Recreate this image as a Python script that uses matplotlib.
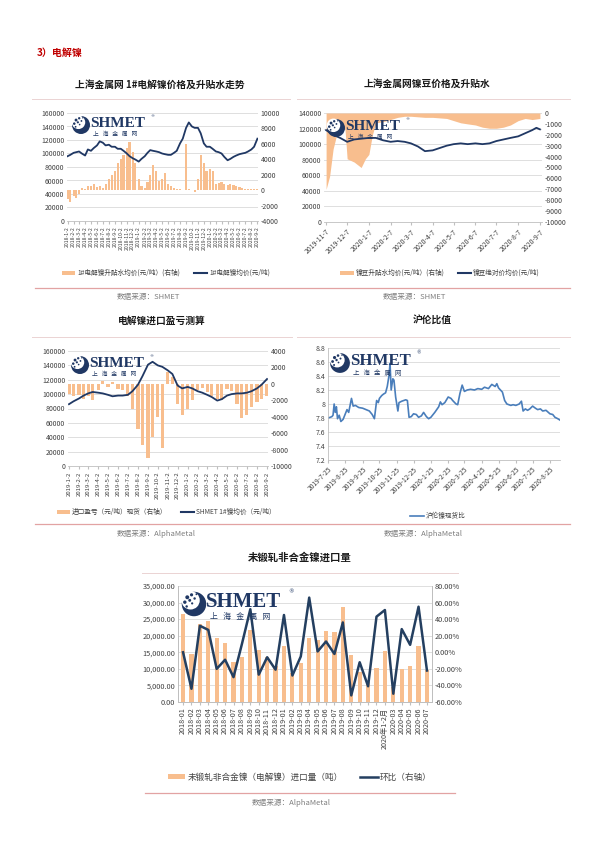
import matplotlib
matplotlib.use('Agg')
import matplotlib.pyplot as plt
import matplotlib.patches as mpatches
from matplotlib.lines import Line2D
import numpy as np
import pandas as pd

plt.rcParams['font.family'] = ['Noto Sans CJK SC', 'DejaVu Sans']
plt.rcParams['axes.unicode_minus'] = False

W, H = 600, 848
BAR = '#F8BE8E'
NAVY = '#203864'
BLUE = '#4A7EBB'
GRID = '#D9D9D9'
TXT = '#404040'
PINK = '#E2A3A3'
LIGHT = '#EBD3D3'

# ---------------- data ----------------
# Chart 1: 1# nickel price and premium (semi-monthly readings)
c1_price = [96000, 98000, 101000, 102000, 103000, 100000, 97000, 106000, 104000, 108000, 112000, 118000,
            116000, 112000, 113000, 110000, 110000, 107000, 107000, 104000, 100000, 96000, 93000, 91000,
            88000, 92000, 96000, 101000, 105000, 104000, 103000, 102000, 100000, 99000, 98000, 98000,
            101000, 104000, 115000, 122000, 138000, 146000, 140000, 138000, 138000, 130000, 115000, 110000,
            110000, 107000, 103000, 102000, 100000, 95000, 90000, 92000, 95000, 97000, 99000, 100000,
            101000, 103000, 106000, 110000, 122000]
c1_premium = [-1200, -1500, -800, -1000, -500, 300, 200, 500, 600, 800, 400, 600,
              300, 800, 1500, 2000, 2500, 3500, 4000, 4500, 5500, 6300, 5000, 3500,
              1500, 500, 300, 1000, 2000, 3200, 2500, 1200, 1500, 2200, 800, 600,
              300, 200, 100, 0, 6000, 200, 0, -300, 1500, 4500, 3500, 2500,
              2800, 2500, 800, 900, 1000, 800, 700, 800, 700, 600, 400, 300,
              200, 150, 100, 100, 100]

# Chart 2: nickel bean price and premium
c2_prem_dates = ['2019-11-07', '2019-11-12', '2019-11-17', '2019-11-22', '2019-11-27', '2019-12-04',
                 '2019-12-07', '2019-12-17', '2019-12-27', '2020-01-02', '2020-01-07', '2020-01-12',
                 '2020-01-17', '2020-01-27', '2020-02-07', '2020-02-17', '2020-02-27', '2020-03-07',
                 '2020-03-17', '2020-03-27', '2020-04-07', '2020-04-17', '2020-04-27', '2020-05-07',
                 '2020-05-17', '2020-05-27', '2020-06-07', '2020-06-17', '2020-06-27', '2020-07-07',
                 '2020-07-17', '2020-07-27', '2020-08-07', '2020-08-17', '2020-08-27', '2020-09-07']
c2_premium = [-7000, -5800, -3300, -2000, -1200, -1500, -4200, -4500, -5000, -4200, -3800, -2000,
              -900, -800, -600, -400, -300, -300, -350, -400, -400, -450, -500, -700,
              -900, -1000, -1100, -1300, -1400, -1400, -1300, -1100, -700, -500, -600, -500]
c2_price_dates = ['2019-11-07', '2019-11-17', '2019-11-27', '2019-12-07', '2019-12-17', '2019-12-27',
                  '2020-01-07', '2020-01-17', '2020-01-27', '2020-02-07', '2020-02-17', '2020-02-27',
                  '2020-03-07', '2020-03-17', '2020-03-27', '2020-04-07', '2020-04-17', '2020-04-27',
                  '2020-05-07', '2020-05-17', '2020-05-27', '2020-06-07', '2020-06-17', '2020-06-27',
                  '2020-07-07', '2020-07-17', '2020-07-27', '2020-08-07', '2020-08-17', '2020-08-27',
                  '2020-09-02', '2020-09-07']
c2_price = [118000, 112000, 108000, 103000, 106000, 107000, 108000, 108000, 105000, 103000, 104000, 103000,
            101000, 97000, 91000, 92000, 95000, 98000, 100000, 101000, 100000, 101000, 100000, 101000,
            104000, 106000, 108000, 110000, 114000, 118000, 121000, 119000]

# Chart 3: import profit/loss and SHMET 1# nickel price (semi-monthly)
c3_price = [86000, 90000, 94000, 98000, 101000, 103000, 102000, 101000, 99000, 97000, 98000, 98000,
            99000, 104000, 113000, 125000, 141000, 145000, 140000, 138000, 133000, 128000, 112000, 108000,
            110000, 108000, 104000, 102000, 99000, 96000, 91000, 93000, 98000, 100000, 101000, 101000,
            102000, 104000, 108000, 113000, 121000]
c3_profit = [-1200, -1500, -1300, -1800, -1500, -2000, -800, 300, -400, 200, -600, -800,
             -1500, -3000, -5500, -7500, -9000, -6500, -4000, -7800, 1500, 800, -2500, -3800,
             -3000, -2000, -800, -500, -1000, -1500, -1800, -2000, -600, -900, -2500, -4200,
             -3800, -2800, -2200, -1800, -1500]

# Chart 4: SHFE/LME ratio
c4_dates = ['2019-07-25', '2019-07-29', '2019-08-01', '2019-08-03', '2019-08-05', '2019-08-07', '2019-08-09',
            '2019-08-11', '2019-08-14', '2019-08-17', '2019-08-21', '2019-08-25', '2019-08-28', '2019-08-31',
            '2019-09-05', '2019-09-08', '2019-09-12', '2019-09-18', '2019-09-25', '2019-10-01', '2019-10-07',
            '2019-10-12', '2019-10-16', '2019-10-20', '2019-10-23', '2019-10-25', '2019-10-29', '2019-11-01',
            '2019-11-05', '2019-11-08', '2019-11-11', '2019-11-13', '2019-11-15', '2019-11-18', '2019-11-20',
            '2019-11-23', '2019-11-25', '2019-11-27', '2019-11-29', '2019-12-04', '2019-12-11', '2019-12-14',
            '2019-12-17', '2019-12-21', '2019-12-25', '2019-12-30', '2020-01-03', '2020-01-08', '2020-01-12',
            '2020-01-17', '2020-01-21', '2020-01-25', '2020-02-01', '2020-02-08', '2020-02-11', '2020-02-14',
            '2020-02-19', '2020-02-25', '2020-03-01', '2020-03-04', '2020-03-10', '2020-03-13', '2020-03-17',
            '2020-03-21', '2020-03-25', '2020-03-30', '2020-04-05', '2020-04-12', '2020-04-18', '2020-04-25',
            '2020-04-30', '2020-05-07', '2020-05-13', '2020-05-19', '2020-05-22', '2020-05-25', '2020-06-01',
            '2020-06-05', '2020-06-09', '2020-06-16', '2020-06-20', '2020-06-25', '2020-07-01', '2020-07-05',
            '2020-07-08', '2020-07-12', '2020-07-16', '2020-07-20', '2020-07-25', '2020-07-30', '2020-08-03',
            '2020-08-08', '2020-08-12', '2020-08-18', '2020-08-25', '2020-08-30', '2020-09-03', '2020-09-08',
            '2020-09-12']
c4_ratio = [7.80, 7.81, 7.82, 7.84, 8.00, 7.88, 7.96,
            7.79, 7.84, 7.75, 7.78, 7.86, 7.92, 7.88,
            8.08, 7.97, 7.98, 7.95, 7.94, 7.92, 7.90,
            7.85, 7.79, 8.05, 8.02, 8.08, 8.12, 8.14,
            8.16, 8.25, 8.40, 8.58, 8.20, 8.36, 8.34,
            8.10, 8.00, 7.90, 8.02, 8.04, 8.06, 8.05,
            7.81, 7.82, 7.86, 7.85, 7.81, 7.83, 7.88,
            7.82, 7.79, 7.81, 7.88, 7.96, 8.03, 7.99,
            8.02, 8.10, 8.08, 8.05, 8.00, 7.99, 8.15,
            8.27, 8.18, 8.20, 8.21, 8.20, 8.22, 8.21,
            8.24, 8.22, 8.28, 8.25, 8.29, 8.23, 8.17,
            8.05, 8.00, 7.98, 7.99, 7.98, 8.00, 8.04,
            7.90, 7.93, 7.91, 7.93, 7.97, 7.94, 7.92,
            7.93, 7.90, 7.91, 7.86, 7.85, 7.81, 7.79,
            7.77]
c4_ticks = ['2019-07-25', '2019-08-25', '2019-09-25', '2019-10-25', '2019-11-25', '2019-12-25',
            '2020-01-25', '2020-02-25', '2020-03-25', '2020-04-25', '2020-05-25', '2020-06-25',
            '2020-07-25', '2020-08-25']

# Chart 5: unwrought non-alloy nickel imports
c5_labels = ['2018-01', '2018-02', '2018-03', '2018-04', '2018-05', '2018-06', '2018-07', '2018-08',
             '2018-09', '2018-10', '2018-11', '2018-12', '2019-01', '2019-02', '2019-03', '2019-04',
             '2019-05', '2019-06', '2019-07', '2019-08', '2019-09', '2019-10', '2019-11', '2019-12',
             '2020年1-2月', '2020-03', '2020-04', '2020-05', '2020-06', '2020-07']
c5_imports = [26500, 14500, 23500, 24300, 19300, 17700, 12000, 13700, 21600, 15800, 13500, 11000,
              16800, 8600, 11700, 19200, 18800, 21300, 21200, 28600, 14200, 9000, 6000, 10200,
              15300, 4500, 10000, 11000, 17000, 9700]
c5_mom = [0, -44, 32, 27, -20, -9, -30, 10, 52, -27, -6, -21,
          45, -28, -5, 66, 1, 13, -2, 36, -52, -12, -41, 43,
          51, -50, 28, 9, 55, -22]

# ---------------- helpers ----------------
fig = plt.figure(figsize=(W / 100, H / 100), dpi=100)
fig.patch.set_facecolor('white')


def rect(x0, y0, x1, y1):
    return [x0 / W, 1 - y1 / H, (x1 - x0) / W, (y1 - y0) / H]


def style_axes(ax, fs=5):
    for s in ax.spines.values():
        s.set_visible(False)
    ax.tick_params(axis='both', length=0, labelsize=fs, colors=TXT, pad=2)


def dual_chart(box, dates, bar_vals, bar_w, line_vals, lyl, lyticks, ryl, ryticks, ticks, ticklabels, rot,
               area=False, bar_dates=None, line_dates=None, xfs=4.4):
    axb = fig.add_axes(rect(*box))
    axl = fig.add_axes(rect(*box))
    bd = bar_dates if bar_dates is not None else dates
    ld = line_dates if line_dates is not None else dates
    if area:
        axb.fill_between(bd, 0, bar_vals, color=BAR, lw=0, zorder=2)
    else:
        axb.bar(bd, bar_vals, width=bar_w, color=BAR, lw=0, zorder=2)
    axb.set_ylim(*ryl)
    axb.set_yticks(ryticks)
    axb.yaxis.tick_right()
    n = len(lyticks) - 1
    for k in range(n + 1):
        axb.axhline(ryl[0] + (ryl[1] - ryl[0]) * k / n, color=GRID, lw=0.6, zorder=0)
    axl.plot(ld, line_vals, color=NAVY, lw=1.3, zorder=3)
    axl.set_ylim(*lyl)
    axl.set_yticks(lyticks)
    axl.patch.set_visible(False)
    for a in (axb, axl):
        style_axes(a)
        a.set_xlim(ticks[0] - pd.Timedelta(days=3), ticks[-1] + pd.Timedelta(days=3))
    axb.set_xticks(ticks)
    axb.set_xticklabels([])
    axl.set_xticks(ticks)
    if rot == 90:
        axl.set_xticklabels(ticklabels, rotation=90, fontsize=xfs, ha='center', va='top')
    else:
        axl.set_xticklabels(ticklabels, rotation=45, fontsize=xfs, ha='right', va='top', rotation_mode='anchor')
    axl.spines['bottom'].set_visible(True)
    axl.spines['bottom'].set_color('#BFBFBF')
    axl.spines['bottom'].set_linewidth(0.6)
    axl.tick_params(axis='x', length=2, color='#BFBFBF')
    return axb, axl


# ---------------- chart 1 ----------------
c1_dates = pd.date_range('2018-01-01', '2020-09-01', freq='SMS') + pd.Timedelta(days=1)
c1_ticks = pd.date_range('2018-01-01', '2020-09-01', freq='MS') + pd.Timedelta(days=1)
c1_ticklabels = [f"{d.year}-{d.month}-2" for d in c1_ticks]
dual_chart((67, 113, 258, 221), c1_dates, c1_premium, 11, c1_price,
           (0, 160000), list(range(0, 160001, 20000)), (-4000, 10000), list(range(-4000, 10001, 2000)),
           c1_ticks, c1_ticklabels, 90, xfs=3.7)

# ---------------- chart 2 ----------------
c2_ticks = pd.date_range('2019-11-01', '2020-09-01', freq='MS') + pd.Timedelta(days=6)
c2_ticklabels = [f"{d.year}-{d.month}-7" for d in c2_ticks]
dual_chart((324, 113, 542, 222), None, c2_premium, None, c2_price,
           (0, 140000), list(range(0, 140001, 20000)), (-10000, 0), list(range(-10000, 1, 1000)),
           c2_ticks, c2_ticklabels, 45, area=True,
           bar_dates=pd.to_datetime(c2_prem_dates), line_dates=pd.to_datetime(c2_price_dates), xfs=5)

# ---------------- chart 3 ----------------
c3_dates = pd.date_range('2019-01-01', '2020-09-01', freq='SMS') + pd.Timedelta(days=1)
c3_ticks = pd.date_range('2019-01-01', '2020-09-01', freq='MS') + pd.Timedelta(days=1)
c3_ticklabels = [f"{d.year}-{d.month}-2" for d in c3_ticks]
dual_chart((68, 351, 268, 466), c3_dates, c3_profit, 10, c3_price,
           (0, 160000), list(range(0, 160001, 20000)), (-10000, 4000), list(range(-10000, 4001, 2000)),
           c3_ticks, c3_ticklabels, 90, xfs=4.3)

# ---------------- chart 4 ----------------
ax4 = fig.add_axes(rect(328, 348, 560, 460))
ax4.plot(pd.to_datetime(c4_dates), c4_ratio, color=BLUE, lw=1.2)
ax4.set_ylim(7.2, 8.8)
ax4.set_yticks([7.2, 7.4, 7.6, 7.8, 8.0, 8.2, 8.4, 8.6, 8.8])
ax4.set_yticklabels(['7.2', '7.4', '7.6', '7.8', '8', '8.2', '8.4', '8.6', '8.8'])
ax4.grid(axis='y', color=GRID, lw=0.6)
ax4.set_axisbelow(True)
style_axes(ax4)
t4 = pd.to_datetime(c4_ticks)
ax4.set_xlim(t4[0], pd.Timestamp('2020-09-12'))
ax4.set_xticks(t4)
ax4.set_xticklabels([f"{d.year}-{d.month}-{d.day}" for d in t4], rotation=45, fontsize=4.8,
                    ha='right', va='top', rotation_mode='anchor')
for s in ('bottom', 'left'):
    ax4.spines[s].set_visible(True)
    ax4.spines[s].set_color('#BFBFBF')
    ax4.spines[s].set_linewidth(0.6)
ax4.tick_params(axis='x', length=2, color='#BFBFBF')

# ---------------- chart 5 ----------------
ax5 = fig.add_axes(rect(178, 586, 432, 702))
x5 = np.arange(len(c5_labels))
ax5.bar(x5, c5_imports, width=0.5, color=BAR, lw=0, zorder=2)
ax5.set_ylim(0, 35000)
ax5.set_yticks(range(0, 35001, 5000))
ax5.set_yticklabels([f"{v:,.2f}" for v in range(0, 35001, 5000)])
ax5.grid(axis='y', color=GRID, lw=0.6)
ax5.set_axisbelow(True)
ax5.set_xlim(-0.6, len(c5_labels) - 0.4)
ax5r = ax5.twinx()
ax5r.plot(x5, c5_mom, color='#243F60', lw=1.8, zorder=3)
ax5r.set_ylim(-60, 80)
ax5r.set_yticks(range(-60, 81, 20))
ax5r.set_yticklabels([f"{v:.2f}%" for v in range(-60, 81, 20)])
for a in (ax5, ax5r):
    style_axes(a, fs=5.3)
    for s in ('bottom', 'left', 'right'):
        a.spines[s].set_visible(True)
        a.spines[s].set_color('#BFBFBF')
        a.spines[s].set_linewidth(0.7)
ax5.set_xticks(x5)
ax5.set_xticklabels(c5_labels, rotation=90, fontsize=5.2)
ax5.tick_params(axis='x', length=2, color='#BFBFBF')

# ---------------- overlay (text, lines, logos) ----------------
ov = fig.add_axes([0, 0, 1, 1], zorder=20)
ov.set_xlim(0, W)
ov.set_ylim(H, 0)
ov.axis('off')
ov.patch.set_visible(False)

ov.text(37, 53, '3）电解镍', color='#C00000', fontsize=7.2, fontweight='bold', ha='left', va='center')

titles = [(160, 85, '上海金属网 1#电解镍价格及升贴水走势', 7),
          (427, 84, '上海金属网镍豆价格及升贴水', 7),
          (162, 321, '电解镍进口盈亏测算', 7),
          (432, 320, '沪伦比值', 7),
          (300, 557, '未锻轧非合金镍进口量', 7.5)]
for x, y, s, fs in titles:
    ov.text(x, y, s, ha='center', va='center', fontsize=fs, fontweight='bold', color='#1a1a1a')

for x0, x1, y in [(32, 290, 99), (297, 570, 99), (32, 292, 337), (297, 570, 337), (142, 458, 573)]:
    ov.plot([x0, x1], [y, y], color=LIGHT, lw=0.7)
for x0, x1, y in [(35, 570, 288), (35, 570, 524), (145, 455, 793)]:
    ov.plot([x0, x1], [y, y], color=PINK, lw=0.9)

src_col = '#7F7F7F'
ov.text(117, 297, '数据来源：SHMET', fontsize=5.5, color=src_col, va='center')
ov.text(383, 297, '数据来源：SHMET', fontsize=5.5, color=src_col, va='center')
ov.text(117, 534, '数据来源：AlphaMetal', fontsize=5.5, color=src_col, va='center')
ov.text(384, 534, '数据来源：AlphaMetal', fontsize=5.5, color=src_col, va='center')
ov.text(252, 803, '数据来源：AlphaMetal', fontsize=5.5, color=src_col, va='center')


def add_logo(cx, cy, s):
    r = 9 * s
    ov.add_patch(mpatches.Ellipse((cx, cy), 2 * r, 2 * r, color=NAVY, lw=0))
    ov.add_patch(mpatches.Ellipse((cx - 0.28 * r, cy - 0.3 * r), 1.5 * r, 1.5 * r, color='white', lw=0))
    dots = [(-0.55, -0.55, 0.16), (-0.2, -0.75, 0.13), (-0.75, -0.15, 0.14), (-0.35, -0.3, 0.12),
            (0.05, -0.45, 0.1), (-0.6, 0.2, 0.1), (0.2, -0.8, 0.08), (-0.15, -0.05, 0.09)]
    for dx, dy, rr in dots:
        ov.add_patch(mpatches.Ellipse((cx + dx * r, cy + dy * r), 2 * rr * r, 2 * rr * r, color=NAVY, lw=0))
    ov.text(cx + 1.0 * r, cy - 0.2 * r, 'SHMET', fontsize=11 * s, fontweight='bold', color=NAVY,
            family='Liberation Serif', ha='left', va='center')
    ov.text(cx + 7.7 * r, cy - 1.0 * r, '®', fontsize=3 * s, color=NAVY, ha='left', va='center',
            family='DejaVu Sans')
    ov.text(cx + 1.3 * r, cy + 1.05 * r, '上   海   金   属   网', fontsize=4.2 * s, color=NAVY,
            ha='left', va='center', style='italic')


add_logo(81, 125, 1.0)
add_logo(336, 128, 1.0)
add_logo(80, 365, 1.0)
add_logo(340, 363, 1.1)
add_logo(194, 604, 1.36)

# ---------------- legends ----------------
def bar_h():
    return mpatches.Patch(color=BAR, lw=0)


def line_h(c=NAVY, lw=1.5):
    return Line2D([], [], color=c, lw=lw)


leg_specs = [
    (166, 273, [bar_h(), line_h()], ['1#电解镍升贴水均价(元/吨）(右轴)', '1#电解镍均价(元/吨)'], 4.8),
    (440, 273, [bar_h(), line_h()], ['镍豆升贴水均价(元/吨）(右轴)', '镍豆绝对价均价(元/吨)'], 4.8),
    (166, 512, [bar_h(), line_h()], ['进口盈亏（元/吨）现货（右轴）', 'SHMET 1#镍均价（元/吨）'], 4.8),
    (438, 516, [line_h(BLUE, 1.2)], ['沪伦镍现货比'], 4.8),
    (300, 777, [bar_h(), line_h('#243F60', 1.8)], ['未锻轧非合金镍（电解镍）进口量（吨）', '环比（右轴）'], 6.2),
]
for x, y, hs, ls, fs in leg_specs:
    leg = fig.legend(hs, ls, loc='center', bbox_to_anchor=(x / W, 1 - y / H), ncol=len(hs), frameon=False,
                     fontsize=fs, handlelength=2.0, handleheight=0.6, columnspacing=2.0, handletextpad=0.3,
                     borderpad=0)
    for t in leg.get_texts():
        t.set_color(TXT)

fig.savefig('out.png', dpi=100, facecolor='white')
